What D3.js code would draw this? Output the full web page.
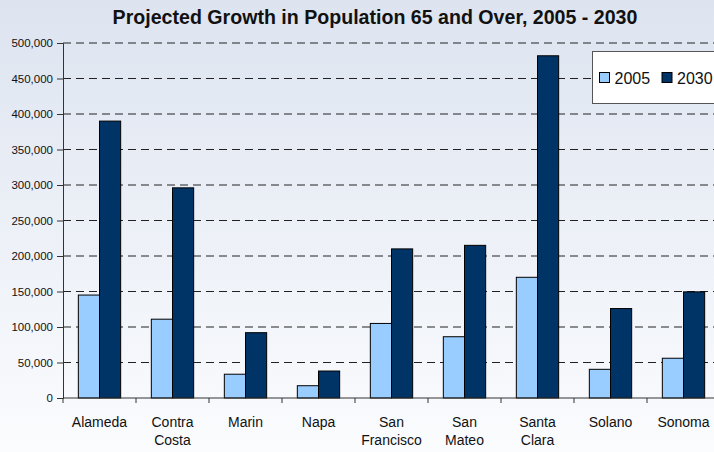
<html>
  <head>
    <title>Projected Growth in Population 65 and Over</title>
    <script type="text/javascript" src="https://cdn.jsdelivr.net/npm/d3@7"></script>
    <style type="text/css">

body {
  margin: 0;
  font-family: "Liberation Sans", Arial, sans-serif;
}

    </style>
  </head>
  <body>
    <script type="text/javascript">

var counties = ["Alameda", "Contra Costa", "Marin", "Napa", "San Francisco", "San Mateo", "Santa Clara", "Solano", "Sonoma"],
    years = ["2005", "2030"],
    pop2005 = [145000, 111000, 33500, 17300, 105000, 86300, 170000, 40400, 56000],
    pop2030 = [390000, 296000, 92000, 38000, 210000, 215000, 482000, 126000, 149500],
    yTicks = [0, 50000, 100000, 150000, 200000, 250000, 300000, 350000, 400000, 450000, 500000],
    colors = ["#99ccff", "#003366"];

var w = 714,
    h = 452,
    x0 = 63,
    x1 = 720,
    yTop = 43,
    yBot = 398;

var svg = d3.select("body")
  .append("svg")
    .attr("width", w)
    .attr("height", h);

var grad = svg.append("defs").append("linearGradient")
    .attr("id", "bg")
    .attr("x1", 0).attr("y1", 0)
    .attr("x2", 0).attr("y2", 1);
grad.append("stop").attr("offset", "0%").attr("stop-color", "#dde4f0");
grad.append("stop").attr("offset", "100%").attr("stop-color", "#fbfcfe");

svg.append("rect")
    .attr("width", w)
    .attr("height", h)
    .attr("fill", "url(#bg)");

var x = d3.scaleBand()
    .domain(counties)
    .range([x0, x1])
    .paddingInner(0.42)
    .paddingOuter(0.21);

var xs = d3.scaleBand()
    .domain(years)
    .range([0, x.bandwidth()]);

var y = d3.scaleLinear()
    .domain([0, 500000])
    .range([yBot, yTop]);

// dashed gridlines
svg.append("g")
  .selectAll("line")
    .data(yTicks.slice(1))
  .enter().append("line")
    .attr("x1", x0)
    .attr("x2", x1)
    .attr("y1", function(d) { return y(d); })
    .attr("y2", function(d) { return y(d); })
    .attr("stroke", "#222")
    .attr("stroke-dasharray", "8,5");

var rows = counties.map(function(c, i) {
  return {county: c, values: [pop2005[i], pop2030[i]]};
});

var groups = svg.append("g")
  .selectAll("g")
    .data(rows)
  .enter().append("g")
    .attr("transform", function(d) { return "translate(" + x(d.county) + ",0)"; });

groups.selectAll("rect")
    .data(function(d) { return d.values.map(function(v, j) { return {year: years[j], value: v, j: j}; }); })
  .enter().append("rect")
    .attr("x", function(d) { return xs(d.year); })
    .attr("y", function(d) { return y(d.value); })
    .attr("width", xs.bandwidth())
    .attr("height", function(d) { return yBot - y(d.value); })
    .attr("fill", function(d) { return colors[d.j]; })
    .attr("stroke", "#000")
    .attr("stroke-width", 1);

// y axis
var yAxis = svg.append("g")
    .attr("transform", "translate(" + x0 + ",0)")
    .call(d3.axisLeft(y)
      .tickValues(yTicks)
      .tickSize(6)
      .tickPadding(4)
      .tickFormat(d3.format(",")));
yAxis.select(".domain").attr("stroke", "#333");
yAxis.selectAll(".tick line").attr("stroke", "#333");
yAxis.selectAll("text")
    .attr("font-family", "Liberation Sans, Arial, sans-serif")
    .attr("font-size", 11.5)
    .attr("fill", "#111");

// x axis line and boundary ticks
svg.append("line")
    .attr("x1", x0).attr("x2", x1)
    .attr("y1", yBot).attr("y2", yBot)
    .attr("stroke", "#333");

svg.append("g")
  .selectAll("line")
    .data(counties)
  .enter().append("line")
    .attr("x1", function(d) { return x(d) - x.step() * x.paddingInner() / 2; })
    .attr("x2", function(d) { return x(d) - x.step() * x.paddingInner() / 2; })
    .attr("y1", yBot)
    .attr("y2", yBot + 5)
    .attr("stroke", "#333");

var labels = svg.append("g")
  .selectAll("text")
    .data(counties)
  .enter().append("text")
    .attr("x", function(d) { return x(d) + x.bandwidth() / 2; })
    .attr("y", 426.5)
    .attr("text-anchor", "middle")
    .attr("font-size", 14)
    .attr("fill", "#111");

labels.each(function(d) {
  var parts = d.split(" ");
  var t = d3.select(this);
  parts.forEach(function(p, i) {
    t.append("tspan")
        .attr("x", x(d) + x.bandwidth() / 2)
        .attr("dy", i ? 18.5 : 0)
        .text(p);
  });
});

// title
svg.append("text")
    .attr("x", 375)
    .attr("y", 24)
    .attr("text-anchor", "middle")
    .attr("font-size", 19.6)
    .attr("font-weight", "bold")
    .attr("fill", "#111")
    .text("Projected Growth in Population 65 and Over, 2005 - 2030");

// legend
var legend = svg.append("g");
legend.append("rect")
    .attr("x", 592.5)
    .attr("y", 51.5)
    .attr("width", 130)
    .attr("height", 52)
    .attr("fill", "#fff")
    .attr("stroke", "#555");

var items = legend.selectAll("g")
    .data(years)
  .enter().append("g")
    .attr("transform", function(d, i) { return "translate(" + (599.5 + i * 62.5) + ",72.5)"; });

items.append("rect")
    .attr("width", 10)
    .attr("height", 10)
    .attr("fill", function(d, i) { return colors[i]; })
    .attr("stroke", "#000");

items.append("text")
    .attr("x", 15)
    .attr("y", 11)
    .attr("font-size", 16)
    .attr("fill", "#111")
    .text(function(d) { return d; });

    </script>
  </body>
</html>
